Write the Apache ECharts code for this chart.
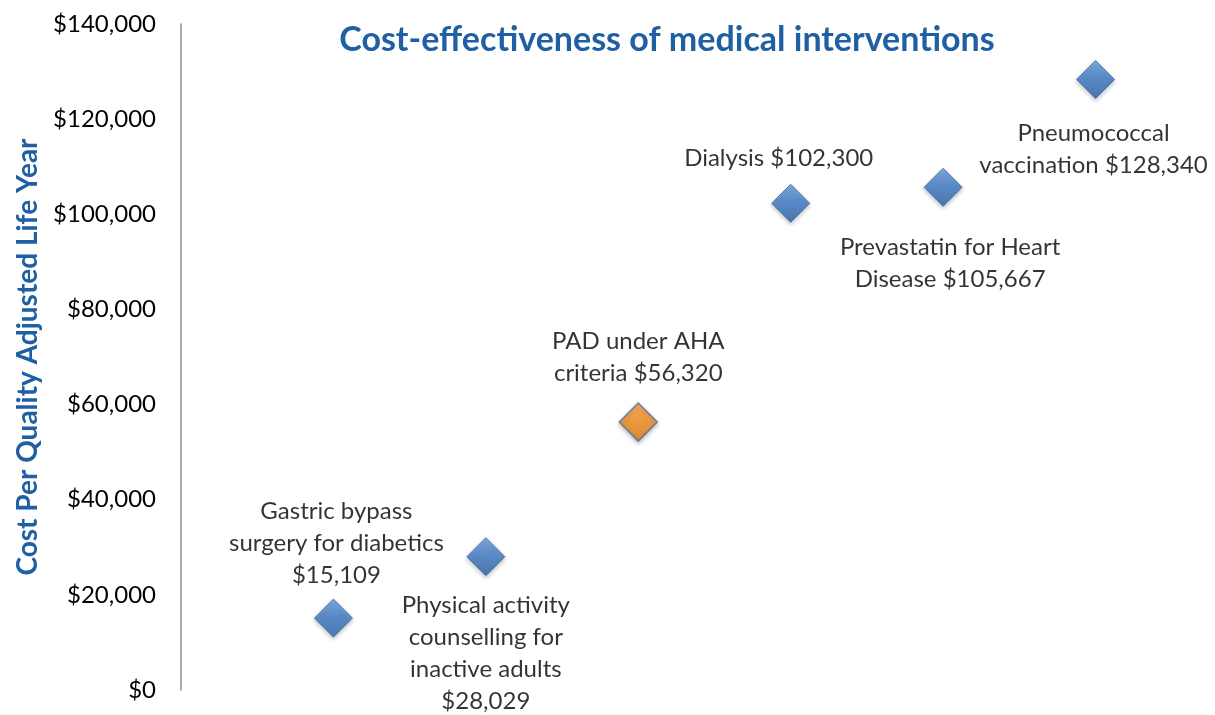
<!DOCTYPE html>
<html>
<head>
<meta charset="utf-8">
<script src="https://cdn.jsdelivr.net/npm/echarts@6/dist/echarts.min.js"></script>
<style>
html,body{margin:0;padding:0;background:#fff;}
#c{width:1215px;height:715px;}
</style>
</head>
<body>
<div id="c"></div>
<script>
var interventions = [
  "Gastric bypass\nsurgery for diabetics",
  "Physical activity\ncounselling for\ninactive adults",
  "PAD under AHA\ncriteria",
  "Dialysis",
  "Prevastatin for Heart\nDisease",
  "Pneumococcal\nvaccination"
];
var positions = [1, 2, 3, 4, 5, 6];
var costs = [15109, 28029, 56320, 102300, 105667, 128340];
var yTicks = [0, 20000, 40000, 60000, 80000, 100000, 120000, 140000];
var highlighted = "PAD under AHA\ncriteria";
var valueOnNewLine = [true, true, false, false, false, false];

var FONT = "Lato, 'Open Sans', sans-serif";
var BLUE_TXT = "#1F5FA3";

function fmt(v){ return "$" + v.toLocaleString("en-US"); }

// label placement per point (layout only)
var labelLayout = [
  {position: "top", distance: 7, offset: [3, 0]},
  {position: "bottom", distance: 13, offset: [0, 0]},
  {position: "top", distance: 13, offset: [0, 0]},
  {position: "top", distance: 10, offset: [-12, 0]},
  {position: "bottom", distance: 24, offset: [7, 0]},
  {position: "bottom", distance: 18, offset: [-2, 0]}
];

var blueGrad = new echarts.graphic.LinearGradient(0, 0, 0, 1, [
  {offset: 0, color: "#6A9EDC"},
  {offset: 0.45, color: "#3F7CC8"},
  {offset: 1, color: "#2B62AA"}
]);
var orangeGrad = new echarts.graphic.LinearGradient(0, 0, 0, 1, [
  {offset: 0, color: "#FFA240"},
  {offset: 0.45, color: "#F78E1E"},
  {offset: 1, color: "#E07A12"}
]);

var data = costs.map(function(v, i){
  var name = interventions[i];
  var isHi = name === highlighted;
  var lay = labelLayout[i];
  var text = name + (valueOnNewLine[i] ? "\n" : " ") + fmt(v);
  return {
    value: [positions[i], v],
    name: name,
    itemStyle: {
      color: isHi ? orangeGrad : blueGrad,
      borderColor: isHi ? "#4D6E9E" : "#3467A8",
      borderWidth: isHi ? 1.5 : 1,
      shadowBlur: 4,
      shadowOffsetY: 2,
      shadowColor: "rgba(0,0,0,0.3)"
    },
    label: {
      show: true,
      position: lay.position,
      distance: lay.distance,
      offset: lay.offset,
      formatter: text
    }
  };
});

var chart = echarts.init(document.getElementById("c"), null, {renderer: "canvas"});
chart.setOption({
  animation: false,
  backgroundColor: "#fff",
  title: {
    text: "Cost-effectiveness of medical interventions",
    left: 662, top: 18, textAlign: "center",
    textStyle: {fontFamily: FONT, fontWeight: "bold", fontSize: 34, color: BLUE_TXT}
  },
  grid: {left: 181, top: 24, right: 28, bottom: 25, containLabel: false},
  xAxis: {
    type: "value", min: 0, max: 6.6,
    show: false
  },
  yAxis: {
    type: "value", min: yTicks[0], max: yTicks[yTicks.length - 1], interval: 20000,
    name: "Cost Per Quality Adjusted Life Year",
    nameLocation: "middle", nameGap: 139, nameRotate: 90,
    nameTextStyle: {fontFamily: FONT, fontWeight: "bold", fontSize: 28, color: BLUE_TXT},
    axisLine: {show: true, lineStyle: {color: "#8C8C8C", width: 1.5}},
    axisTick: {show: false},
    splitLine: {show: false},
    axisLabel: {
      fontFamily: FONT, fontSize: 24, color: "#000", margin: 25,
      formatter: function(v){ return fmt(v); }
    }
  },
  series: [{
    type: "scatter",
    symbol: "diamond",
    symbolSize: [38, 38],
    data: data,
    label: {
      fontFamily: FONT, fontSize: 24, color: "#000", lineHeight: 32, align: "center"
    }
  }]
});
</script>
</body>
</html>
